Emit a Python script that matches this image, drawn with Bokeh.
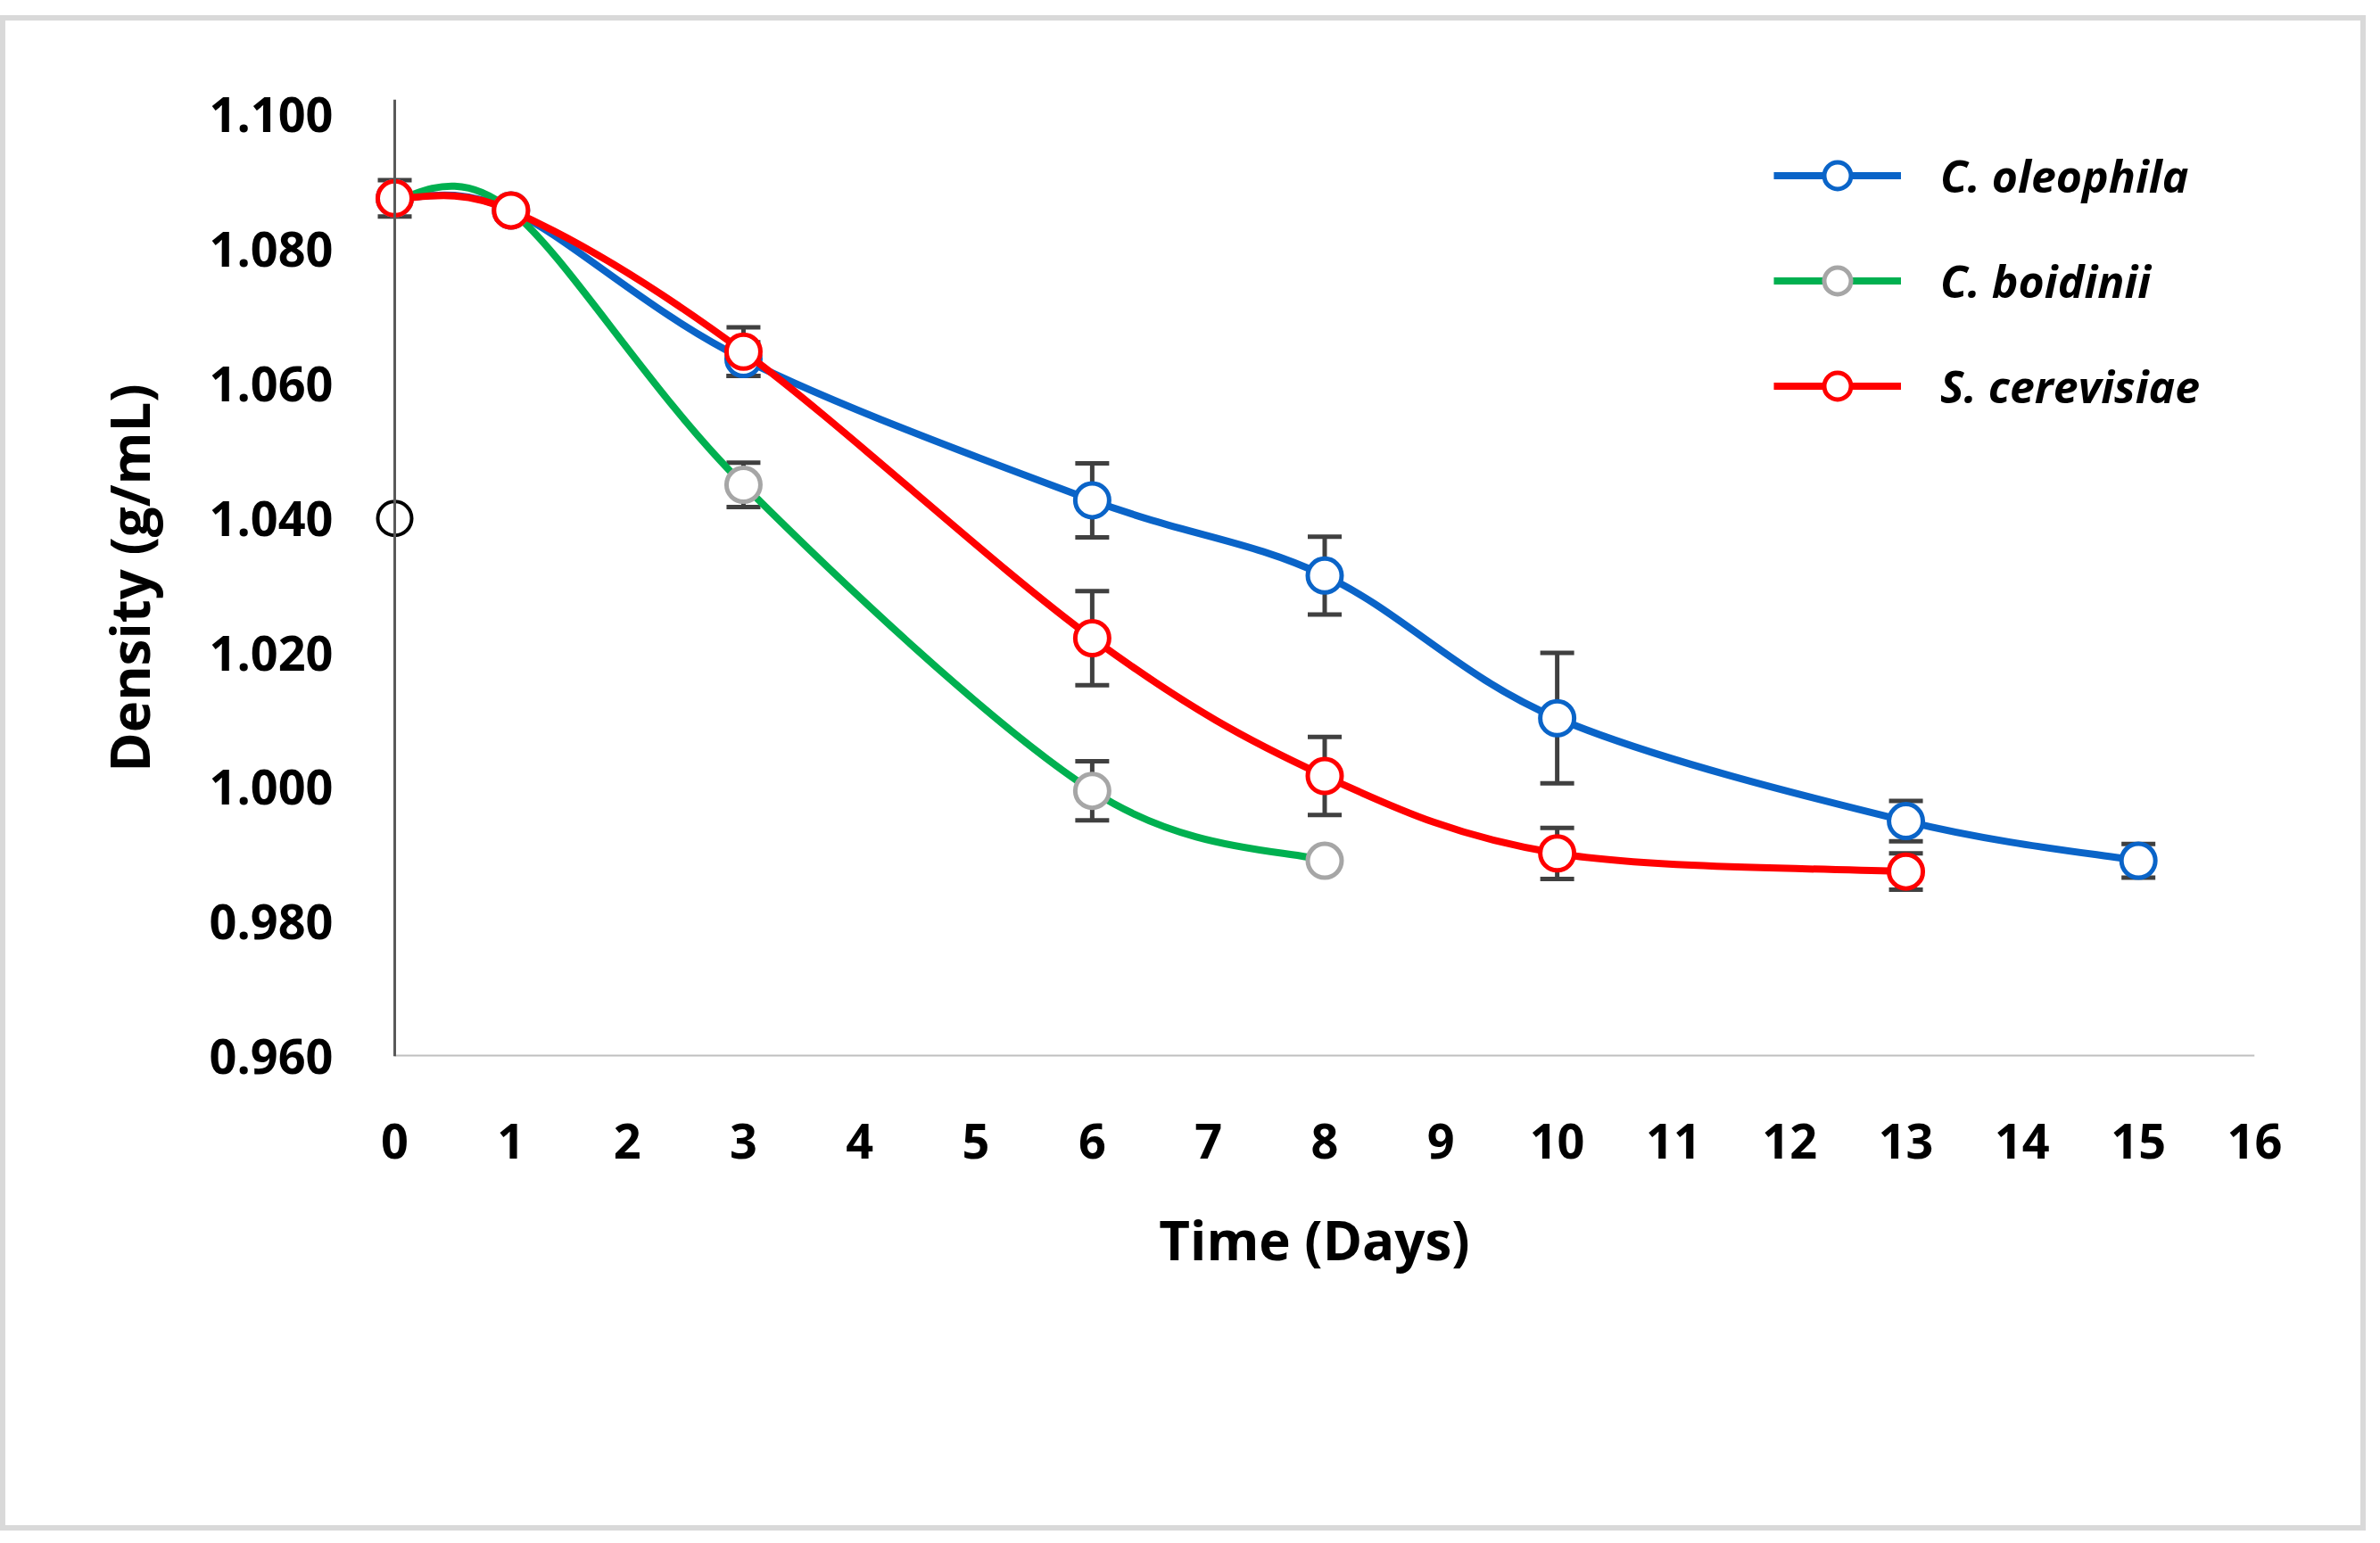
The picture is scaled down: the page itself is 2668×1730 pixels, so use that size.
import numpy as np
from bokeh.plotting import figure
from bokeh.models import (ColumnDataSource, Whisker, TeeHead, Legend, LegendItem,
                          FixedTicker, Range1d, PrintfTickFormatter, Span)
from bokeh.embed import file_html
from bokeh.resources import INLINE

# ---------------- data ----------------
days_oleophila = [0, 1, 3, 6, 8, 10, 13, 15]
dens_oleophila = [1.0876, 1.0858, 1.0637, 1.0427, 1.0315, 1.0103, 0.9950, 0.9891]
err_oleophila = [0.0, 0.0, 0.0025, 0.0055, 0.0058, 0.0097, 0.0030, 0.0025]

days_boidinii = [0, 1, 3, 6, 8]
dens_boidinii = [1.0876, 1.0858, 1.0450, 0.9995, 0.9891]
err_boidinii = [0.0, 0.0, 0.0033, 0.0044, 0.0]

days_cerevisiae = [0, 1, 3, 6, 8, 10, 13]
dens_cerevisiae = [1.0876, 1.0858, 1.0648, 1.0222, 1.0017, 0.9902, 0.9875]
err_cerevisiae = [0.0027, 0.0, 0.0036, 0.0070, 0.0058, 0.0038, 0.0027]

extra_days = [0]
extra_dens = [1.040]

x_ticks = list(range(0, 17))
y_ticks = [0.960, 0.980, 1.000, 1.020, 1.040, 1.060, 1.080, 1.100]
x_min, x_max = 0, 16
y_min, y_max = 0.960, 1.1023

labels = ["C. oleophila", "C. boidinii", "S. cerevisiae"]
line_colors = ["#0A64C8", "#00B050", "#FF0000"]
marker_colors = ["#0A64C8", "#A6A6A6", "#FF0000"]

FONT = "Open Sans"

TOP_GAP = 17
W, H = 2652, 1716 - TOP_GAP
# small left pad so markers sitting on day 0 are not clipped by the frame
pad_days = 23 / 130.31
p = figure(width=W, height=H, output_backend="svg", toolbar_location=None,
           x_range=Range1d(x_min - pad_days, x_max), y_range=Range1d(y_min, y_max),
           min_border_left=419, min_border_right=125, min_border_top=111 - TOP_GAP,
           min_border_bottom=H - (1184 - TOP_GAP), background_fill_color="white",
           border_fill_color=None, border_fill_alpha=0, outline_line_color=None)
p.margin = (TOP_GAP, 0, 0, 0)
p.styles = {"outline": "6px solid #D9D9D9", "outline-offset": "-6px",
            "background-color": "white"}
p.grid.visible = False

# axes styling
p.xaxis.ticker = FixedTicker(ticks=x_ticks)
p.yaxis.ticker = FixedTicker(ticks=y_ticks)
p.yaxis.formatter = PrintfTickFormatter(format="%.3f")
for ax in (p.xaxis[0], p.yaxis[0]):
    ax.major_tick_line_color = None
    ax.minor_tick_line_color = None
    ax.axis_line_color = None
    ax.major_label_text_font = FONT
    ax.major_label_text_font_style = "bold"
    ax.major_label_text_font_size = "54px"
    ax.major_label_text_color = "black"
    ax.axis_label_text_font = FONT
    ax.axis_label_text_font_style = "bold"
    ax.axis_label_text_font_size = "60px"
    ax.axis_label_text_color = "black"
p.xaxis.axis_label = "Time (Days)"
p.yaxis.axis_label = "Density (g/mL)"
p.xaxis.major_label_standoff = 69
p.yaxis.major_label_standoff = 40
p.xaxis.axis_label_standoff = 47
p.yaxis.axis_label_standoff = 46

# visible axis lines: y axis at day 0, x axis from day 0 to 16
p.add_layout(Span(location=x_min, dimension="height", line_color="#595959", line_width=3))
xaxis_src = ColumnDataSource(dict(base=[y_min], lower=[x_min], upper=[x_max]))
p.add_layout(Whisker(base="base", lower="lower", upper="upper", source=xaxis_src,
                     dimension="width", line_color="#BFBFBF", line_width=4,
                     upper_head=None, lower_head=None))


def bezier_parts(xs, ys):
    x = np.asarray(xs, float)
    y = np.asarray(ys, float)
    n = len(x)
    xp = np.concatenate([[x[0]], x, [x[-1]]])
    yp = np.concatenate([[y[0]], y, [y[-1]]])
    return dict(
        x0=x[:-1], y0=y[:-1], x1=x[1:], y1=y[1:],
        cx0=x[:-1] + (xp[2:n + 1] - xp[0:n - 1]) / 6.0,
        cy0=y[:-1] + (yp[2:n + 1] - yp[0:n - 1]) / 6.0,
        cx1=x[1:] - (xp[3:n + 2] - xp[1:n]) / 6.0,
        cy1=y[1:] - (yp[3:n + 2] - yp[1:n]) / 6.0,
    )


series = [(days_oleophila, dens_oleophila, err_oleophila),
          (days_boidinii, dens_boidinii, err_boidinii),
          (days_cerevisiae, dens_cerevisiae, err_cerevisiae)]

items = []
for (xs, ys, es), lab, lc, mc in zip(series, labels, line_colors, marker_colors):
    ex = [x for x, e in zip(xs, es) if e > 0]
    lo = [y - e for y, e in zip(ys, es) if e > 0]
    hi = [y + e for y, e in zip(ys, es) if e > 0]
    esrc = ColumnDataSource(dict(x=ex, lower=lo, upper=hi))
    wk = Whisker(base="x", lower="lower", upper="upper", source=esrc, dimension="height",
                 line_color="#404040", line_width=5,
                 upper_head=TeeHead(size=38, line_color="#404040", line_width=5),
                 lower_head=TeeHead(size=38, line_color="#404040", line_width=5))
    p.add_layout(wk)
    bsrc = ColumnDataSource(bezier_parts(xs, ys))
    bz = p.bezier(x0="x0", y0="y0", x1="x1", y1="y1", cx0="cx0", cy0="cy0",
                  cx1="cx1", cy1="cy1", source=bsrc, line_color=lc, line_width=8)
    sc = p.scatter(xs, ys, marker="circle", size=38, fill_color="white",
                   line_color=mc, line_width=5)
    items.append(LegendItem(label=lab, renderers=[bz, sc]))

p.scatter(extra_days, extra_dens, marker="circle", size=38, fill_color="white",
          line_color="black", line_width=4)

legend = Legend(items=items, location=(1569, 714), orientation="vertical",
                glyph_width=143, glyph_height=75, label_height=75, spacing=43,
                label_standoff=44, padding=0, margin=0,
                border_line_color=None, background_fill_alpha=0,
                label_text_font=FONT, label_text_font_style="bold italic",
                label_text_font_size="50px", label_text_color="black")
p.add_layout(legend, "center")

open("out.html", "w").write(file_html(p, INLINE))
